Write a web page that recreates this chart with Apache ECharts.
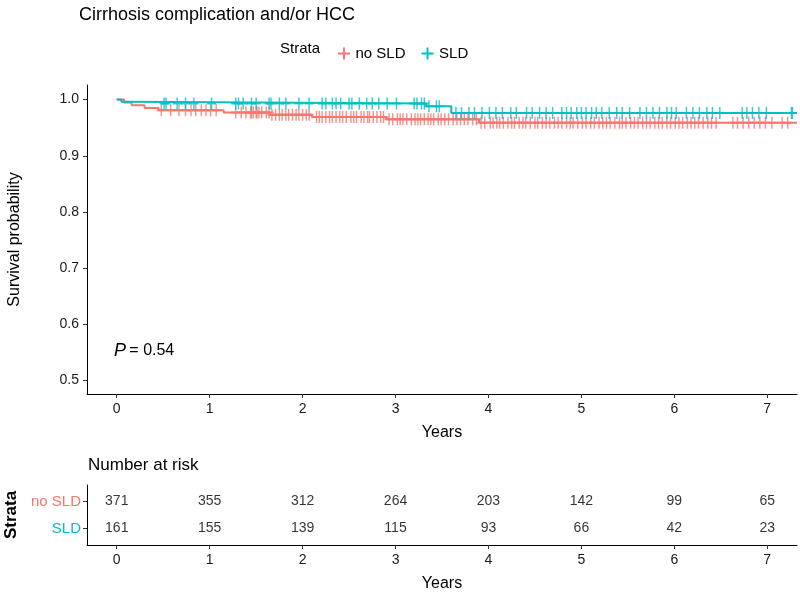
<!DOCTYPE html>
<html><head><meta charset="utf-8">
<script src="https://cdn.jsdelivr.net/npm/echarts@6/dist/echarts.min.js"></script>
<style>html,body{margin:0;padding:0;background:#fff}#c{width:800px;height:593px}</style>
</head><body><div id="c"></div>
<script>
// ---- data ----
var xTicks = [0,1,2,3,4,5,6,7];
var yTicks = [0.5,0.6,0.7,0.8,0.9,1.0];
var strata = ['no SLD','SLD'];
// Kaplan-Meier step points [time, survival]
var noSLDTimes = [0, 0.08, 0.16, 0.30, 0.45, 1.15, 1.65, 2.10, 2.90, 3.90, 7.32];
var noSLDSurv  = [1.0, 0.995, 0.990, 0.985, 0.981, 0.977, 0.973, 0.969, 0.965, 0.959, 0.959];
var sldTimes   = [0, 0.05, 0.12, 3.33, 3.60, 7.32];
var sldSurv    = [1.0, 0.996, 0.993, 0.988, 0.976, 0.976];
// censoring times
var noSLDCensor = [0.48,0.58,0.67,0.74,0.80,0.85,0.91,0.96,1.01,1.07,1.28,1.34,1.39,1.44,1.45,1.47,1.50,1.51,1.53,1.56,1.61,1.64,1.67,1.71,1.75,1.78,1.82,1.85,1.89,1.93,1.96,2.00,2.04,2.07,2.15,2.18,2.21,2.25,2.29,2.32,2.36,
 2.40,2.43,2.47,2.52,2.55,2.58,2.63,2.66,2.70,2.72,2.76,2.80,2.84,2.87,2.93,2.97,3.02,3.05,3.08,3.12,3.17,3.21,3.24,3.27,3.31,3.35,3.38,3.41,3.46,3.49,3.53,3.57,3.62,3.66,3.70,3.74,3.78,3.83,3.87,3.92,3.96,4.02,4.05,4.09,4.12,4.16,4.21,4.25,4.28,4.33,4.37,4.40,4.45,4.50,4.53,4.58,4.62,4.66,4.71,4.75,4.79,4.84,4.88,4.91,4.96,5.01,5.05,5.10,5.14,5.19,5.23,5.27,5.31,5.36,5.41,5.44,5.48,5.53,5.57,5.61,5.66,5.70,5.74,5.79,5.83,5.87,5.92,5.96,6.01,6.05,6.09,6.14,6.18,6.22,6.26,6.31,6.36,6.40,6.45,6.63,6.68,6.74,6.80,6.86,6.92,6.98,7.05,7.16,7.22];
var sldCensor = [0.51,0.53,0.65,0.74,0.83,1.02,1.28,1.31,1.36,1.45,1.50,1.64,1.66,1.75,1.82,1.96,2.07,2.21,2.25,2.32,2.36,2.41,2.50,2.53,2.61,2.69,2.75,2.82,2.91,3.01,3.20,3.23,3.28,3.31,3.36,3.44,3.47,3.65,3.71,3.79,3.85,3.93,4.01,4.08,4.15,4.24,4.30,4.41,4.47,4.55,4.62,4.69,4.79,4.84,4.89,4.95,5.00,5.05,5.11,5.16,5.22,5.30,5.38,5.44,5.52,5.63,5.70,5.77,5.84,5.92,5.97,6.02,6.13,6.20,6.27,6.35,6.41,6.49,6.73,6.78,6.84,6.91,6.99,7.26,7.27];
// number at risk
var riskTimes = [0,1,2,3,4,5,6,7];
var riskNoSLD = [371,355,312,264,203,142,99,65];
var riskSLD   = [161,155,139,115,93,66,42,23];
var pText = '0.54';

// ---- helpers ----
var RED = '#F8766D', TEAL = '#00BFC4';
var FONT = 'Liberation Sans, Arial, sans-serif';
function pairs(t, s){ return t.map(function(v,i){return [v, s[i]];}); }
function survAt(t, times, surv){ var v = surv[0]; for (var i=0;i<times.length;i++){ if (times[i] <= t) v = surv[i]; } return v; }
function censorPts(c, times, surv){ return c.map(function(t){ return [t, survAt(t, times, surv)]; }); }
var PLUS = 'path://M4.2,0H5.8V4.2H10V5.8H5.8V10H4.2V5.8H0V4.2H4.2Z';

var chart = echarts.init(document.getElementById('c'));
var axisCommon = {
  axisLine:{show:true, onZero:false, lineStyle:{color:'#000', width:1}},
  splitLine:{show:false}
};
function xAx(g){
  return Object.assign({}, axisCommon, {gridIndex:g, type:'value', min:-0.32, max:7.32,
      axisTick:{show:true, length:4, customValues:xTicks, lineStyle:{color:'#333'}},
      axisLabel:{customValues:xTicks, fontSize:14, color:'#1a1a1a', margin:8},
      name:'Years', nameLocation:'middle', nameGap:31, nameTextStyle:{fontSize:16, color:'#000'}});
}
chart.setOption({
  animation:false,
  backgroundColor:'#fff',
  textStyle:{fontFamily:FONT},
  title:{text:'Cirrhosis complication and/or HCC', left:74, top:1, textStyle:{fontSize:18, fontWeight:'normal', color:'#000', fontFamily:FONT}},
  legend:{data:['no SLD','SLD'], left:333, top:41, icon:PLUS, itemWidth:13, itemHeight:12, itemGap:16,
    textStyle:{fontSize:15, color:'#000', fontFamily:FONT}},
  graphic:[
    {type:'text', left:280, top:41, style:{text:'Strata', fontSize:15, fill:'#000', fontFamily:FONT}},
    {type:'text', left:114, top:342, style:{rich:{i:{fontStyle:'italic', fontSize:18, fontFamily:FONT}, n:{fontSize:16, fontFamily:FONT}}, text:'{i|P} {n|= ' + pText + '}', fill:'#000'}},
    {type:'text', left:88, top:457, style:{text:'Number at risk', fontSize:17, fill:'#000', fontFamily:FONT}}
  ],
  grid:[
    {left:87, right:3, top:85, bottom:199, outerBoundsMode:'none', containLabel:false},
    {left:87, right:3, top:485, bottom:48, outerBoundsMode:'none', containLabel:false}
  ],
  xAxis:[xAx(0), xAx(1)],
  yAxis:[
    Object.assign({}, axisCommon, {gridIndex:0, type:'value', min:0.476, max:1.026,
      axisTick:{show:true, length:4, customValues:yTicks, lineStyle:{color:'#333'}},
      axisLabel:{customValues:yTicks, fontSize:14, color:'#1a1a1a', margin:8, formatter:function(v){return v.toFixed(1);}},
      name:'Survival probability', nameLocation:'middle', nameGap:64, nameRotate:90, nameTextStyle:{fontSize:16, color:'#000'}}),
    Object.assign({}, axisCommon, {gridIndex:1, type:'value', min:0.4, max:2.6,
      axisTick:{show:true, length:4, customValues:[1,2], lineStyle:{color:'#333'}},
      axisLabel:{customValues:[1,2], fontSize:14, margin:6,
        formatter:function(v){ return v===2 ? '{r|no SLD}' : '{t|SLD}'; },
        rich:{r:{color:RED, fontSize:15, fontFamily:FONT}, t:{color:TEAL, fontSize:15, fontFamily:FONT}}},
      name:'Strata', nameLocation:'middle', nameGap:66, nameRotate:90, nameTextStyle:{fontSize:17, fontWeight:'bold', color:'#000'}})
  ],
  series:[
    {name:'no SLD', type:'line', xAxisIndex:0, yAxisIndex:0, step:'end', showSymbol:false, symbol:'none',
      data:pairs(noSLDTimes, noSLDSurv), lineStyle:{color:RED, width:2}, itemStyle:{color:RED}, z:3},
    {name:'SLD', type:'line', xAxisIndex:0, yAxisIndex:0, step:'end', showSymbol:false, symbol:'none',
      data:pairs(sldTimes, sldSurv), lineStyle:{color:TEAL, width:2}, itemStyle:{color:TEAL}, z:4},
    {name:'no SLD', type:'scatter', xAxisIndex:0, yAxisIndex:0, symbol:PLUS, symbolSize:[9,12],
      data:censorPts(noSLDCensor, noSLDTimes, noSLDSurv), itemStyle:{color:RED}, z:3},
    {name:'SLD', type:'scatter', xAxisIndex:0, yAxisIndex:0, symbol:PLUS, symbolSize:[9,12],
      data:censorPts(sldCensor, sldTimes, sldSurv), itemStyle:{color:TEAL}, z:4},
    {type:'scatter', xAxisIndex:1, yAxisIndex:1, symbolSize:0, silent:true,
      data:riskTimes.map(function(t,i){return [t, 2, riskNoSLD[i]];}),
      label:{show:true, position:'inside', formatter:function(p){return p.value[2];}, fontSize:14, color:'#000', fontFamily:FONT}},
    {type:'scatter', xAxisIndex:1, yAxisIndex:1, symbolSize:0, silent:true,
      data:riskTimes.map(function(t,i){return [t, 1, riskSLD[i]];}),
      label:{show:true, position:'inside', formatter:function(p){return p.value[2];}, fontSize:14, color:'#000', fontFamily:FONT}}
  ]
});
</script></body></html>
